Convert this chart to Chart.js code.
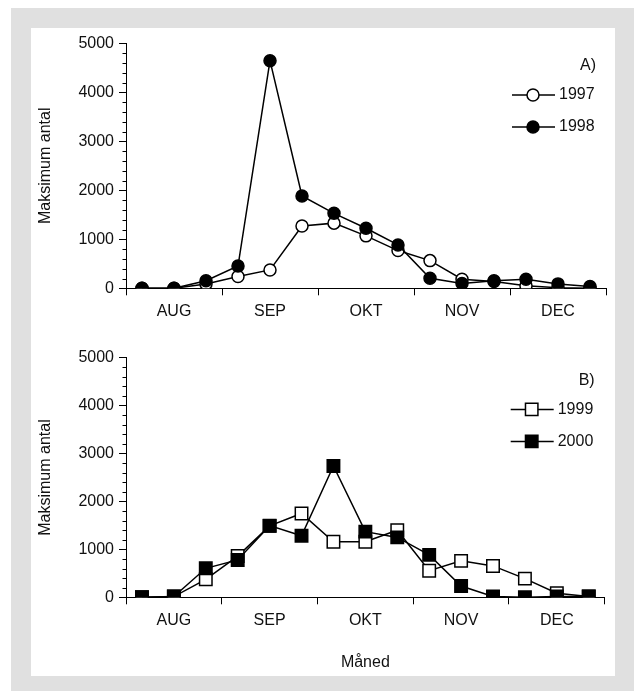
<!DOCTYPE html>
<html>
<head>
<meta charset="utf-8">
<script src="https://cdn.jsdelivr.net/npm/chart.js@4/dist/chart.umd.min.js"></script>
<style>
  html, body { margin: 0; padding: 0; background: #fff; }
  body { width: 634px; height: 691px; position: relative; overflow: hidden; }
  #frame { position: absolute; left: 11px; top: 8px; width: 623px; height: 690px; background: #e0e0e0; }
  #sheet { position: absolute; left: 31px; top: 28px; width: 584px; height: 648px; background: #fff; }
  #chartA { position: absolute; left: 0; top: 0; }
  #chartB { position: absolute; left: 0; top: 300px; }
</style>
</head>
<body>
<div id="frame"></div>
<div id="sheet">
  <canvas id="chartA" width="584" height="300"></canvas>
  <canvas id="chartB" width="584" height="348"></canvas>
</div>
<script>
// Three samplings per month, August to December
const samplings = [
  'AUG-1', 'AUG-2', 'AUG-3',
  'SEP-1', 'SEP-2', 'SEP-3',
  'OKT-1', 'OKT-2', 'OKT-3',
  'NOV-1', 'NOV-2', 'NOV-3',
  'DEC-1', 'DEC-2', 'DEC-3'
];
const months = ['AUG', 'SEP', 'OKT', 'NOV', 'DEC'];

// Maksimum antal per sampling
const y1997 = [0, 0, 90, 240, 375, 1270, 1330, 1070, 770, 565, 185, 140, 50, 10, 0];
const y1998 = [0, 0, 155, 455, 4645, 1885, 1530, 1225, 885, 205, 100, 155, 185, 90, 35];
const y1999 = [0, 15, 375, 860, 1490, 1750, 1160, 1160, 1400, 555, 760, 655, 390, 85, 15];
const y2000 = [0, 15, 605, 780, 1495, 1285, 2740, 1370, 1250, 885, 235, 15, 0, 15, 15];

const yTicksMajor = [0, 1000, 2000, 3000, 4000, 5000];
const yMinorStep = 200;

const FONT = "'Liberation Sans', Arial, Helvetica, sans-serif";
const INK = '#111';
Chart.defaults.font.family = FONT;
Chart.defaults.font.size = 16;
Chart.defaults.color = INK;

// Minor tick marks on the value axis
const minorTicks = {
  id: 'minorTicks',
  afterDraw(chart) {
    const y = chart.scales.y;
    const ctx = chart.ctx;
    ctx.save();
    ctx.strokeStyle = '#000';
    ctx.lineWidth = 1;
    for (let v = y.min + yMinorStep; v < y.max; v += yMinorStep) {
      if (yTicksMajor.includes(v)) continue;
      const py = Math.round(y.getPixelForValue(v)) + 0.5;
      ctx.beginPath();
      ctx.moveTo(y.right - 3.5, py);
      ctx.lineTo(y.right, py);
      ctx.stroke();
    }
    ctx.restore();
  }
};

// Panel tag and series key in the upper right corner
const seriesKey = {
  id: 'seriesKey',
  afterDatasetsDraw(chart, args, opts) {
    const ctx = chart.ctx;
    const { top, right } = chart.chartArea;
    ctx.save();
    ctx.font = '16px ' + FONT;
    ctx.fillStyle = INK;
    ctx.textBaseline = 'middle';
    ctx.textAlign = 'right';
    ctx.fillText(opts.tag, right - 10, top + 22.7);
    chart.data.datasets.forEach((ds, i) => {
      const yy = top + 51.7 + 32 * i;
      ctx.strokeStyle = '#000';
      ctx.lineWidth = 1.5;
      ctx.beginPath();
      ctx.moveTo(right - 94, yy);
      ctx.lineTo(right - 51, yy);
      ctx.stroke();
      const cx = right - 73;
      ctx.beginPath();
      if (ds.pointStyle === 'rect') {
        const h = Math.SQRT1_2 * ds.pointRadius;
        ctx.rect(cx - h, yy - h, 2 * h, 2 * h);
      } else {
        ctx.arc(cx, yy, ds.pointRadius, 0, Math.PI * 2);
      }
      ctx.fillStyle = ds.pointBackgroundColor;
      ctx.fill();
      ctx.lineWidth = ds.pointBorderWidth;
      ctx.strokeStyle = ds.pointBorderColor;
      ctx.stroke();
      ctx.fillStyle = INK;
      ctx.textAlign = 'left';
      ctx.fillText(ds.label, right - 47, yy);
    });
    ctx.restore();
  }
};

function series(label, values, style, filled, order) {
  return {
    label,
    data: values,
    order,
    borderColor: '#000',
    borderWidth: 1.5,
    pointStyle: style,
    pointRadius: style === 'rect' ? 8.8 : 6,
    pointHoverRadius: style === 'rect' ? 8.8 : 6,
    pointBorderWidth: 1.5,
    pointBorderColor: '#000',
    pointBackgroundColor: filled ? '#000' : '#fff',
    tension: 0,
    fill: false
  };
}

function panel(canvasId, datasets, tag, pad, axisHeight, showTitle) {
  return new Chart(document.getElementById(canvasId), {
    type: 'line',
    data: { labels: samplings, datasets },
    options: {
      responsive: false,
      animation: false,
      devicePixelRatio: 1,
      layout: { padding: pad },
      plugins: {
        legend: { display: false },
        tooltip: { enabled: false },
        seriesKey: { tag }
      },
      scales: {
        x: {
          type: 'category',
          display: false,
          offset: true
        },
        xm: {
          type: 'category',
          position: 'bottom',
          labels: months,
          offset: true,
          grid: {
            offset: true,
            drawOnChartArea: false,
            drawTicks: true,
            tickLength: 7,
            tickColor: '#000',
            lineWidth: 1
          },
          border: { display: true, color: '#000', width: 1 },
          ticks: { padding: 7, color: INK, font: { size: 16 }, maxRotation: 0, autoSkip: false },
          title: {
            display: showTitle,
            text: 'Måned',
            color: INK,
            font: { size: 16 },
            padding: { top: 0, bottom: 3.9 }
          },
          afterFit(scale) { scale.height = axisHeight; }
        },
        y: {
          type: 'linear',
          position: 'left',
          min: 0,
          max: 5000,
          afterBuildTicks(scale) { scale.ticks = yTicksMajor.map(v => ({ value: v })); },
          ticks: {
            padding: 5,
            color: INK,
            font: { size: 16 },
            callback: (v) => String(v)
          },
          grid: {
            drawOnChartArea: false,
            drawTicks: true,
            tickLength: 7,
            tickColor: '#000',
            lineWidth: 1
          },
          border: { display: true, color: '#000', width: 1 },
          title: {
            display: true,
            text: 'Maksimum antal',
            color: INK,
            font: { size: 16 },
            padding: { top: 5.4, bottom: 0 }
          },
          afterFit(scale) { scale.width = 95; }
        }
      }
    },
    plugins: [minorTicks, seriesKey]
  });
}

panel('chartA', [
  series('1997', y1997, 'circle', false, 1),
  series('1998', y1998, 'circle', true, 0)
], 'A)', { top: 15.3, right: 9, bottom: 0, left: 0 }, 39.7, false);

panel('chartB', [
  series('1999', y1999, 'rect', false, 1),
  series('2000', y2000, 'rect', true, 0)
], 'B)', { top: 29.7, right: 9, bottom: 0, left: 0 }, 78.7, true);
</script>
</body>
</html>
